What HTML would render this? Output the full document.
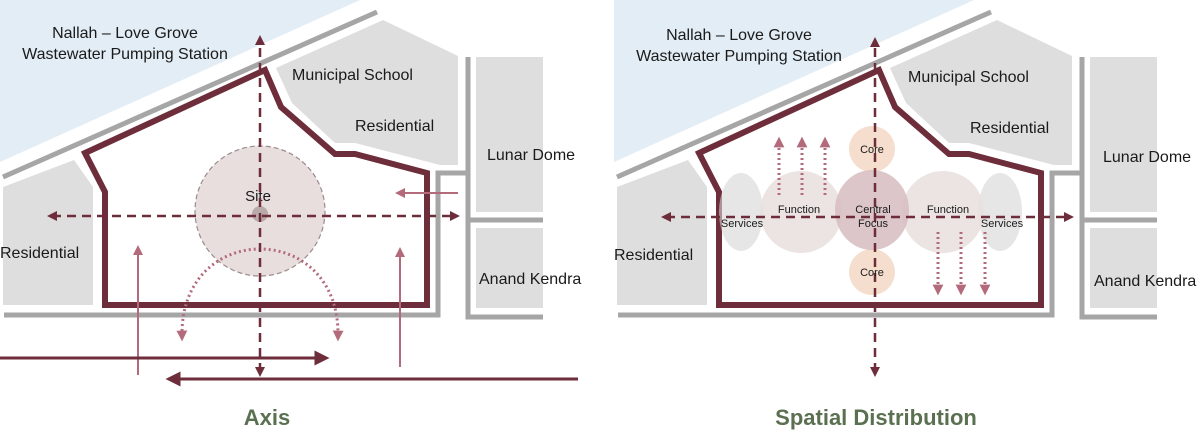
<!DOCTYPE html>
<html><head><meta charset="utf-8"><style>
body{margin:0;background:#fff}
svg{display:block}
text{font-family:"Liberation Sans",Arial,sans-serif;fill:#1a1a1a}
.lb{font-size:16px}
.sm{font-size:11px}
.ttl{font-size:22px;font-weight:bold;fill:#5a7050}
</style></head><body>
<svg width="1200" height="435" viewBox="0 0 1200 435" xmlns="http://www.w3.org/2000/svg">
<defs>
<marker id="am" viewBox="0 0 10 10" refX="5" refY="5" markerWidth="4" markerHeight="4" orient="auto-start-reverse"><path d="M0,0L10,5L0,10z" fill="#6e2d3a"/></marker>
<marker id="ap" viewBox="0 0 10 10" refX="5" refY="5" markerWidth="5" markerHeight="5" orient="auto-start-reverse"><path d="M0,0L10,5L0,10z" fill="#b36b7c"/></marker>
<marker id="apd" viewBox="0 0 10 10" refX="5" refY="5" markerWidth="3.6" markerHeight="3.6" orient="auto-start-reverse"><path d="M0,0L10,5L0,10z" fill="#b36b7c"/></marker>
<marker id="ad" viewBox="0 0 10 10" refX="5" refY="5" markerWidth="5" markerHeight="5" orient="auto-start-reverse"><path d="M0,0L10,5L0,10z" fill="#6e2d3a"/></marker>
<g id="base">
<polygon points="0,0 360,0 0,162" fill="#e3edf5"/>
<line x1="3" y1="177" x2="377" y2="12" stroke="#a6a6a6" stroke-width="5"/>
<polygon points="276,68 383,20 458,56 458,165 440,165 355,143 335,143 292,103" fill="#dedede"/>
<polygon points="3,187 74,160 93,187 93,305 3,305" fill="#dedede"/>
<rect x="476" y="57" width="67" height="155" fill="#dedede"/>
<rect x="476" y="228" width="67" height="80" fill="#dedede"/>
<polyline points="4,315 438,315 438,173 466,173" fill="none" stroke="#a6a6a6" stroke-width="5"/>
<polyline points="468,57 468,317 543,317" fill="none" stroke="#a6a6a6" stroke-width="5"/>
<line x1="468" y1="220" x2="543" y2="220" stroke="#a6a6a6" stroke-width="5"/>
<polygon points="85,153 265,70 281,107 335,154 355,154 427,173 427,305 105,305 105,192" fill="none" stroke="#6e2d3a" stroke-width="6"/>
</g>
</defs>

<!-- LEFT -->
<use href="#base"/>
<circle cx="260" cy="211" r="65" fill="#e8dedd" stroke="#9a8c8c" stroke-width="1.2" stroke-dasharray="5,3"/>
<circle cx="260" cy="214" r="8" fill="#b9a9a9"/>
<text x="258" y="201" class="lb" text-anchor="middle" style="font-size:15px">Site</text>
<path d="M182,336 C180,220 340,220 338,336" fill="none" stroke="#b36b7c" stroke-width="3" stroke-dasharray="2,3" marker-end="url(#apd)" marker-start="url(#apd)"/>
<line x1="260" y1="372" x2="260" y2="40" stroke="#6e2d3a" stroke-width="2.5" stroke-dasharray="9,6" marker-end="url(#am)" marker-start="url(#am)"/>
<line x1="52" y1="216" x2="455" y2="216" stroke="#6e2d3a" stroke-width="2.5" stroke-dasharray="9,6" marker-end="url(#am)" marker-start="url(#am)"/>
<line x1="138" y1="375" x2="138" y2="250" stroke="#b36b7c" stroke-width="2" marker-end="url(#ap)"/>
<line x1="400" y1="367" x2="400" y2="252" stroke="#b36b7c" stroke-width="2" marker-end="url(#ap)"/>
<line x1="458" y1="193" x2="400" y2="193" stroke="#b36b7c" stroke-width="2" marker-end="url(#ap)"/>
<line x1="0" y1="358" x2="322" y2="358" stroke="#6e2d3a" stroke-width="3" marker-end="url(#ad)"/>
<line x1="578" y1="379" x2="173" y2="379" stroke="#6e2d3a" stroke-width="3" marker-end="url(#ad)"/>
<text x="125" y="38" class="lb" text-anchor="middle">Nallah – Love Grove</text>
<text x="125" y="59" class="lb" text-anchor="middle">Wastewater Pumping Station</text>
<text x="292" y="80" class="lb">Municipal School</text>
<text x="355" y="131" class="lb">Residential</text>
<text x="487" y="160" class="lb">Lunar Dome</text>
<text x="0" y="258" class="lb">Residential</text>
<text x="479" y="284" class="lb">Anand Kendra</text>
<text x="267" y="425" class="ttl" text-anchor="middle">Axis</text>

<!-- RIGHT -->
<g transform="translate(614,0)">
<use href="#base"/>
<ellipse cx="127" cy="212" rx="22" ry="39" fill="#d5d5d5" opacity="0.6"/>
<ellipse cx="386" cy="212" rx="22" ry="39" fill="#d5d5d5" opacity="0.6"/>
<ellipse cx="187" cy="212" rx="41" ry="41" fill="#e9dfdd" opacity="0.85"/>
<ellipse cx="329" cy="212" rx="41" ry="41" fill="#e9dfdd" opacity="0.85"/>
<ellipse cx="258" cy="149" rx="23" ry="23" fill="#f6decf"/>
<ellipse cx="258" cy="272" rx="23" ry="23" fill="#f6decf"/>
<ellipse cx="258" cy="210" rx="37" ry="40" fill="#d7bcc0" opacity="0.85"/>
<g stroke="#b36b7c" stroke-width="3" stroke-dasharray="2,3">
<line x1="165" y1="195" x2="165" y2="142" marker-end="url(#apd)"/>
<line x1="188" y1="195" x2="188" y2="142" marker-end="url(#apd)"/>
<line x1="211" y1="195" x2="211" y2="142" marker-end="url(#apd)"/>
<line x1="324" y1="232" x2="324" y2="290" marker-end="url(#apd)"/>
<line x1="347" y1="232" x2="347" y2="290" marker-end="url(#apd)"/>
<line x1="371" y1="232" x2="371" y2="290" marker-end="url(#apd)"/>
</g>
<line x1="261" y1="372" x2="261" y2="42" stroke="#6e2d3a" stroke-width="2.5" stroke-dasharray="9,6" marker-end="url(#am)" marker-start="url(#am)"/>
<line x1="52" y1="217" x2="455" y2="217" stroke="#6e2d3a" stroke-width="2.5" stroke-dasharray="9,6" marker-end="url(#am)" marker-start="url(#am)"/>
<text x="258" y="153" class="sm" text-anchor="middle">Core</text>
<text x="258" y="276" class="sm" text-anchor="middle">Core</text>
<text x="259" y="213" class="sm" text-anchor="middle">Central</text>
<text x="259" y="227" class="sm" text-anchor="middle">Focus</text>
<text x="185" y="213" class="sm" text-anchor="middle">Function</text>
<text x="334" y="213" class="sm" text-anchor="middle">Function</text>
<text x="128" y="227" class="sm" text-anchor="middle">Services</text>
<text x="388" y="227" class="sm" text-anchor="middle">Services</text>
<text x="125" y="40" class="lb" text-anchor="middle">Nallah – Love Grove</text>
<text x="125" y="61" class="lb" text-anchor="middle">Wastewater Pumping Station</text>
<text x="294" y="82" class="lb">Municipal School</text>
<text x="356" y="133" class="lb">Residential</text>
<text x="489" y="162" class="lb">Lunar Dome</text>
<text x="0" y="260" class="lb">Residential</text>
<text x="480" y="286" class="lb">Anand Kendra</text>
<text x="262" y="425" class="ttl" text-anchor="middle">Spatial Distribution</text>
</g>
</svg>
</body></html>
